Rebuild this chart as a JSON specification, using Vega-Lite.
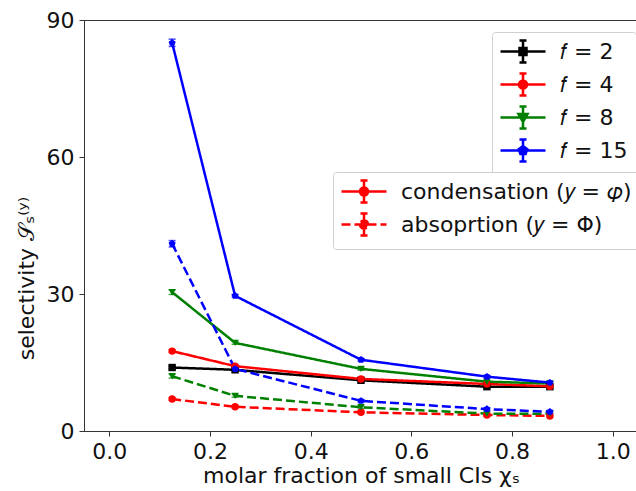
{
  "$schema": "https://vega.github.io/schema/vega-lite/v6.json",
  "width": 554,
  "height": 411,
  "autosize": {"type": "none"},
  "padding": {"left": 84, "top": 20, "right": 0, "bottom": 60},
  "background": "white",
  "config": {
    "font": "DejaVu Sans",
    "view": {"stroke": "#333", "strokeWidth": 1},
    "axis": {
      "grid": false,
      "domainColor": "#333",
      "tickColor": "#333",
      "tickSize": 5,
      "labelFontSize": 22,
      "labelColor": "#111",
      "titleFontSize": 22,
      "titleFontWeight": "normal",
      "titleColor": "#111",
      "labelPadding": 5
    },
    "legend": {
      "labelFontSize": 22,
      "labelColor": "#111",
      "labelLimit": 0,
      "strokeColor": "#d0d0d0",
      "fillColor": "white",
      "cornerRadius": 3,
      "padding": 8
    }
  },
  "data": {
    "values": [
      {"x": 0.125, "y": 13.9, "f": 2, "type": "condensation", "err": 0.3},
      {"x": 0.25, "y": 13.4, "f": 2, "type": "condensation", "err": 0.3},
      {"x": 0.5, "y": 11.1, "f": 2, "type": "condensation", "err": 0.3},
      {"x": 0.75, "y": 9.7, "f": 2, "type": "condensation", "err": 0.3},
      {"x": 0.875, "y": 9.7, "f": 2, "type": "condensation", "err": 0.3},
      {"x": 0.125, "y": 17.5, "f": 4, "type": "condensation", "err": 0.3},
      {"x": 0.25, "y": 14.2, "f": 4, "type": "condensation", "err": 0.3},
      {"x": 0.5, "y": 11.4, "f": 4, "type": "condensation", "err": 0.3},
      {"x": 0.75, "y": 10.3, "f": 4, "type": "condensation", "err": 0.3},
      {"x": 0.875, "y": 9.8, "f": 4, "type": "condensation", "err": 0.3},
      {"x": 0.125, "y": 30.4, "f": 8, "type": "condensation", "err": 0.5},
      {"x": 0.25, "y": 19.3, "f": 8, "type": "condensation", "err": 0.3},
      {"x": 0.5, "y": 13.6, "f": 8, "type": "condensation", "err": 0.3},
      {"x": 0.75, "y": 10.8, "f": 8, "type": "condensation", "err": 0.3},
      {"x": 0.875, "y": 10.4, "f": 8, "type": "condensation", "err": 0.3},
      {"x": 0.125, "y": 85.0, "f": 15, "type": "condensation", "err": 0.8},
      {"x": 0.25, "y": 29.6, "f": 15, "type": "condensation", "err": 0.3},
      {"x": 0.5, "y": 15.6, "f": 15, "type": "condensation", "err": 0.3},
      {"x": 0.75, "y": 11.9, "f": 15, "type": "condensation", "err": 0.3},
      {"x": 0.875, "y": 10.6, "f": 15, "type": "condensation", "err": 0.3},
      {"x": 0.125, "y": 7.0, "f": 4, "type": "absorption", "err": 0.3},
      {"x": 0.25, "y": 5.3, "f": 4, "type": "absorption", "err": 0.3},
      {"x": 0.5, "y": 4.1, "f": 4, "type": "absorption", "err": 0.3},
      {"x": 0.75, "y": 3.5, "f": 4, "type": "absorption", "err": 0.3},
      {"x": 0.875, "y": 3.3, "f": 4, "type": "absorption", "err": 0.3},
      {"x": 0.125, "y": 12.0, "f": 8, "type": "absorption", "err": 0.4},
      {"x": 0.25, "y": 7.7, "f": 8, "type": "absorption", "err": 0.3},
      {"x": 0.5, "y": 5.2, "f": 8, "type": "absorption", "err": 0.3},
      {"x": 0.75, "y": 3.8, "f": 8, "type": "absorption", "err": 0.3},
      {"x": 0.875, "y": 3.8, "f": 8, "type": "absorption", "err": 0.3},
      {"x": 0.125, "y": 41.0, "f": 15, "type": "absorption", "err": 0.7},
      {"x": 0.25, "y": 13.6, "f": 15, "type": "absorption", "err": 0.3},
      {"x": 0.5, "y": 6.6, "f": 15, "type": "absorption", "err": 0.3},
      {"x": 0.75, "y": 4.8, "f": 15, "type": "absorption", "err": 0.3},
      {"x": 0.875, "y": 4.2, "f": 15, "type": "absorption", "err": 0.3}
    ]
  },
  "encoding": {
    "x": {
      "field": "x",
      "type": "quantitative",
      "scale": {"domain": [-0.05, 1.05], "nice": false, "zero": false},
      "axis": {"values": [0, 0.2, 0.4, 0.6, 0.8, 1.0], "format": ".1f", "title": "molar fraction of small CIs χₛ", "titlePadding": 3}
    },
    "y": {
      "field": "y",
      "type": "quantitative",
      "scale": {"domain": [0, 90], "nice": false},
      "axis": {"values": [0, 30, 60, 90], "title": "selectivity 𝒮ₛ⁽ʸ⁾", "titlePadding": 8, "titleY": 258, "titleAlign": "center"}
    },
    "color": {
      "field": "f",
      "type": "nominal",
      "scale": {"domain": [2, 4, 8, 15], "range": ["#000000", "#ff0000", "#008000", "#0000ff"]},
      "legend": {
        "orient": "none",
        "legendX": 408,
        "legendY": 12,
        "title": null,
        "labelExpr": "'𝑓 = ' + datum.label",
        "symbolType": "M-2.25,0H2.25M0,-1.1V1.1M-0.35,-1.1H0.35M-0.35,1.1H0.35M-0.4,0A0.4,0.4 0 1,0 0.4,0A0.4,0.4 0 1,0 -0.4,0Z",
        "symbolSize": 400,
        "symbolStrokeWidth": 2.5,
        "symbolOffset": 11.5,
        "labelOffset": 25.5,
        "rowPadding": 0,
        "encode": {
          "symbols": {
            "update": {
              "fill": {"scale": "color", "field": "value"},
              "stroke": {"scale": "color", "field": "value"},
              "shape": {"signal": "'M-2.25,0H2.25M0,-1.1V1.1M-0.35,-1.1H0.35M-0.35,1.1H0.35' + (datum.value == 2 ? 'M-0.35,-0.35H0.35V0.35H-0.35Z' : datum.value == 4 ? 'M-0.4,0A0.4,0.4 0 1,0 0.4,0A0.4,0.4 0 1,0 -0.4,0Z' : datum.value == 8 ? 'M-0.45,-0.35H0.45L0,0.45Z' : 'M0,-0.45L0.43,-0.14L0.26,0.36L-0.26,0.36L-0.43,-0.14Z')"}
            }
          }
        }
      }
    }
  },
  "layer": [
    {
      "mark": {"type": "errorbar", "ticks": {"size": 7}, "thickness": 1.5},
      "encoding": {
        "yError": {"field": "err"},
        "detail": {"field": "type"}
      }
    },
    {
      "mark": {"type": "line", "strokeWidth": 2.5},
      "encoding": {
        "strokeDash": {
          "field": "type",
          "type": "nominal",
          "scale": {"domain": ["condensation", "absorption"], "range": [[1, 0], [9, 4]]},
          "legend": {
            "orient": "none",
            "legendX": 249,
            "legendY": 152,
            "title": null,
            "labelExpr": "datum.label == 'condensation' ? 'condensation (𝑦 = 𝜑)' : 'absoprtion (𝑦 = Φ)'",
            "symbolType": "M-2.25,0H2.25M0,-1.1V1.1M-0.35,-1.1H0.35M-0.35,1.1H0.35M-0.4,0A0.4,0.4 0 1,0 0.4,0A0.4,0.4 0 1,0 -0.4,0Z",
            "symbolSize": 400,
            "symbolStrokeWidth": 2.5,
            "symbolStrokeColor": "#ff0000",
            "symbolFillColor": "#ff0000",
            "symbolOffset": 11.5,
            "labelOffset": 25.5,
            "rowPadding": 0
          }
        },
        "detail": {"field": "type"}
      }
    },
    {
      "transform": [{"filter": "datum.f == 2"}],
      "mark": {"type": "point", "filled": true, "opacity": 1, "size": 55, "shape": "square"}
    },
    {
      "transform": [{"filter": "datum.f == 4"}],
      "mark": {"type": "point", "filled": true, "opacity": 1, "size": 55, "shape": "circle"}
    },
    {
      "transform": [{"filter": "datum.f == 8"}],
      "mark": {"type": "point", "filled": true, "opacity": 1, "size": 55, "shape": "triangle-down"}
    },
    {
      "transform": [{"filter": "datum.f == 15"}],
      "mark": {"type": "point", "filled": true, "opacity": 1, "size": 55, "shape": "M0,-1L0.951,-0.309L0.588,0.809L-0.588,0.809L-0.951,-0.309Z"}
    }
  ]
}
